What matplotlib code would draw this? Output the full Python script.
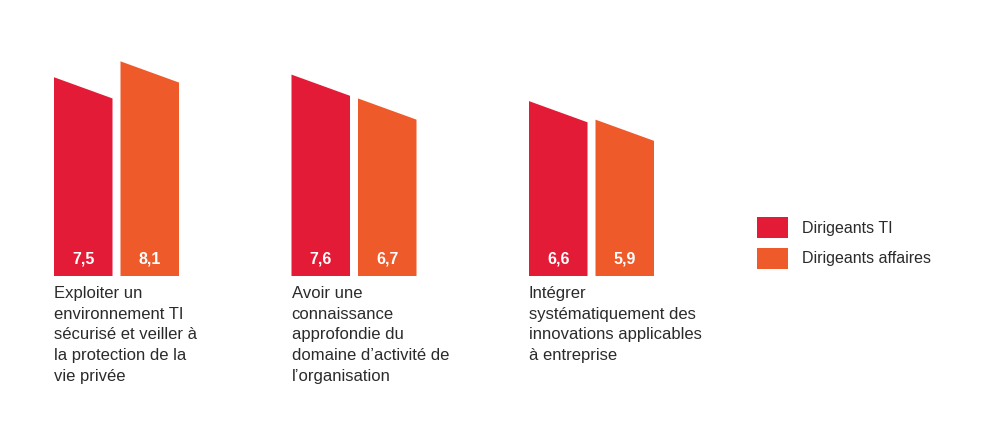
import matplotlib.pyplot as plt
from matplotlib.patches import Polygon, Rectangle

plt.rcParams['font.family'] = ['Liberation Sans', 'DejaVu Sans']

# data
categories = [
    "Exploiter un\nenvironnement TI\nsécurisé et veiller à\nla protection de la\nvie privée",
    "Avoir une\nconnaissance\napprofondie du\ndomaine d’activité de\nl’organisation",
    "Intégrer\nsystématiquement des\ninnovations applicables\nà entreprise",
]
series = ["Dirigeants TI", "Dirigeants affaires"]
dirigeants_ti = [7.5, 7.6, 6.6]
dirigeants_affaires = [8.1, 6.7, 5.9]
labels_ti = ["7,5", "7,6", "6,6"]
labels_affaires = ["8,1", "6,7", "5,9"]

colors = ["#E31B36", "#EE5A2A"]

fig = plt.figure(figsize=(10, 4.21), dpi=100)
px = 26.5  # pixels per unit
ax = fig.add_axes([0, (421 - 276) / 421, 1, 276 / 421])
ax.set_xlim(0, 1000)
ax.set_ylim(0, 276 / px)
ax.axis("off")

group_start = 54
group_step = 237.5
bar_w = 58.5
bar_gap = 8
slant = 0.8

for i, cat in enumerate(categories):
    x0 = group_start + i * group_step
    for j, (vals, labs) in enumerate([(dirigeants_ti, labels_ti),
                                      (dirigeants_affaires, labels_affaires)]):
        xl = x0 + j * (bar_w + bar_gap)
        v = vals[i]
        poly = Polygon([(xl, 0), (xl, v), (xl + bar_w, v - slant), (xl + bar_w, 0)],
                       closed=True, facecolor=colors[j], edgecolor="none")
        ax.add_patch(poly)
        ax.text(xl + bar_w / 2, 17 / px, labs[i], color="white", fontsize=11.5,
                fontweight="bold", ha="center", va="center")
    fig.text(x0 / 1000, 1 - 286 / 421, cat, ha="left", va="top", fontsize=12,
             color="#2b2b2b", linespacing=1.47)

# legend
for k, name in enumerate(series):
    ytop = 217 + k * 31
    fig.patches.append(Rectangle((757 / 1000, 1 - (ytop + 21) / 421), 31 / 1000, 21 / 421,
                                 transform=fig.transFigure, facecolor=colors[k],
                                 edgecolor="none"))
    fig.text(802 / 1000, 1 - (ytop + 11) / 421, name, ha="left", va="center",
             fontsize=11.5, color="#2b2b2b")

fig.savefig("out.png", dpi=100, facecolor="white")
